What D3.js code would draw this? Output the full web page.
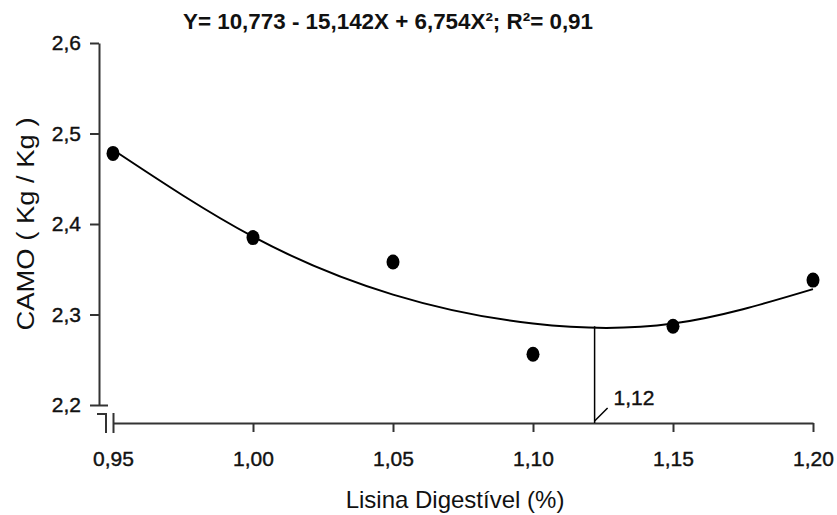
<!DOCTYPE html>
<html>
<head>
<meta charset="utf-8">
<script src="https://cdn.jsdelivr.net/npm/d3@7"></script>
<style>
  body { margin: 0; background: #fff; }
  text { font-family: "Liberation Sans", Arial, sans-serif; fill: #111; }
</style>
</head>
<body>
<script>
// data
var lisina = [0.95, 1.00, 1.05, 1.10, 1.15, 1.20];
var camo = [2.478, 2.385, 2.358, 2.256, 2.287, 2.338];
// regression curve as drawn, read at the same doses
var fitted = [2.482, 2.386, 2.322, 2.290, 2.290, 2.328];
var yTicks = [2.2, 2.3, 2.4, 2.5, 2.6];
var xTicks = [0.95, 1.00, 1.05, 1.10, 1.15, 1.20];
var optimo = [1.122, 2.287];
var optimoLabel = "1,12";
var equation = "Y=  10,773 - 15,142X + 6,754X²; R²= 0,91";

var svg = d3.select("body")
    .append("svg")
    .attr("width", 837)
    .attr("height", 515);

var x = d3.scaleLinear()
    .domain([0.95, 1.20])
    .range([113, 813]);

var y = d3.scaleLinear()
    .domain([2.2, 2.6])
    .range([405, 43]);

var comma = function (f) { return function (d) { return d3.format(f)(d).replace(".", ","); }; };
var axisColor = "#333";

// y axis
var yAxis = svg.append("g")
    .attr("transform", "translate(99,0)")
    .call(d3.axisLeft(y).tickValues(yTicks).tickSize(9).tickSizeOuter(0).tickFormat(comma(".1f")));
yAxis.select(".domain").attr("stroke", axisColor).attr("stroke-width", 2);
yAxis.selectAll(".tick line").attr("stroke", axisColor).attr("stroke-width", 2);
yAxis.selectAll(".tick text")
    .attr("x", -18)
    .attr("font-size", 21)
    .attr("fill", "#111")
    .attr("stroke", "#111")
    .attr("stroke-width", 0.4);
// 2,2 tick crosses the axis
yAxis.selectAll(".tick line").filter(function (d) { return d === 2.2; }).attr("x2", 9).attr("x1", -9);

// x axis
var xAxis = svg.append("g")
    .attr("transform", "translate(0,423)")
    .call(d3.axisBottom(x).tickValues(xTicks).tickSize(9).tickSizeOuter(0).tickFormat(comma(".2f")));
xAxis.select(".domain").attr("stroke", axisColor).attr("stroke-width", 2);
xAxis.selectAll(".tick line").attr("stroke", axisColor).attr("stroke-width", 2);
xAxis.selectAll(".tick line").filter(function (d) { return d === 0.95; }).attr("y1", -10).attr("y2", 10);
xAxis.selectAll(".tick text")
    .attr("y", 43)
    .attr("dy", 0)
    .attr("font-size", 21)
    .attr("fill", "#111")
    .attr("stroke", "#111")
    .attr("stroke-width", 0.4);

// axis break marks
svg.append("path")
    .attr("d", "M97,414 H106 V433")
    .attr("fill", "none")
    .attr("stroke", axisColor)
    .attr("stroke-width", 2);

// fitted curve
var line = d3.line()
    .x(function (d, i) { return x(lisina[i]); })
    .y(function (d) { return y(d); })
    .curve(d3.curveNatural);

svg.append("path")
    .datum(fitted)
    .attr("d", line)
    .attr("fill", "none")
    .attr("stroke", "#000")
    .attr("stroke-width", 2);

// observed means
svg.append("g")
    .selectAll("ellipse")
    .data(camo)
    .enter()
    .append("ellipse")
    .attr("cx", function (d, i) { return x(lisina[i]); })
    .attr("cy", function (d) { return y(d); })
    .attr("rx", 6.5)
    .attr("ry", 7.5)
    .attr("fill", "#000");

// optimum marker
svg.append("line")
    .attr("x1", x(optimo[0]))
    .attr("x2", x(optimo[0]))
    .attr("y1", y(optimo[1]))
    .attr("y2", 423)
    .attr("stroke", "#000")
    .attr("stroke-width", 1.5);

svg.append("line")
    .attr("x1", x(optimo[0]))
    .attr("y1", 421)
    .attr("x2", x(optimo[0]) + 13)
    .attr("y2", 408)
    .attr("stroke", "#000")
    .attr("stroke-width", 1.5);

svg.append("text")
    .attr("x", x(optimo[0]) + 19)
    .attr("y", 405)
    .attr("font-size", 21)
    .attr("stroke", "#111")
    .attr("stroke-width", 0.4)
    .text(optimoLabel);

// equation
svg.append("text")
    .attr("x", 183)
    .attr("y", 29)
    .attr("font-size", 22)
    .attr("font-weight", "bold")
    .attr("textLength", 410)
    .attr("lengthAdjust", "spacingAndGlyphs")
    .text(equation);

// axis titles
svg.append("text")
    .attr("x", 455)
    .attr("y", 508)
    .attr("text-anchor", "middle")
    .attr("font-size", 24)
    .text("Lisina Digestível (%)");

svg.append("text")
    .attr("transform", "translate(34,224) rotate(-90)")
    .attr("text-anchor", "middle")
    .attr("font-size", 23)
    .attr("textLength", 213)
    .attr("lengthAdjust", "spacingAndGlyphs")
    .text("CAMO ( Kg / Kg )");
</script>
</body>
</html>
